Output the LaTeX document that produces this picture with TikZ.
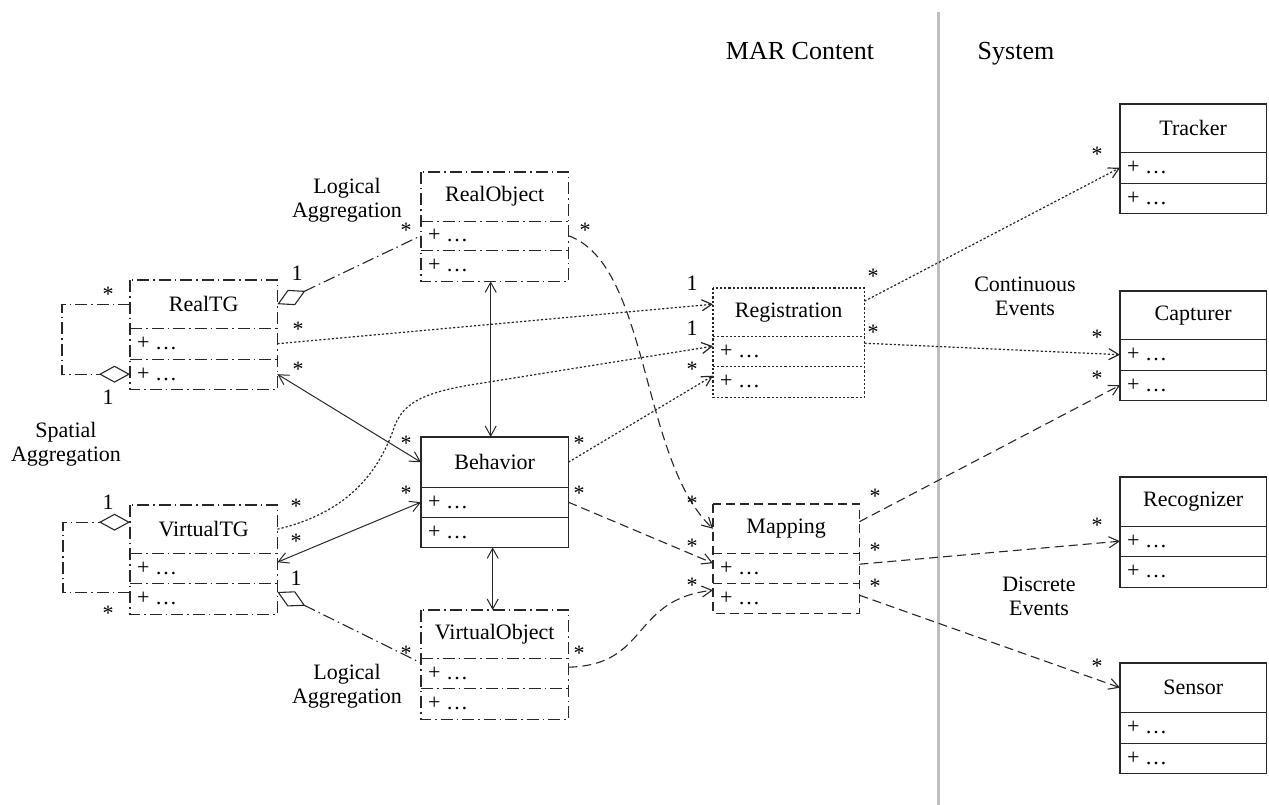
\documentclass[tikz,border=0pt]{standalone}
\usepackage{fontspec}
\setmainfont{Liberation Serif}
\usetikzlibrary{arrows.meta,calc}
\definecolor{divgray}{RGB}{190,190,190}
\definecolor{lncol}{RGB}{40,40,40}
\tikzset{
  every node/.style={font=\fontsize{22}{24}\selectfont, text=black},
  dd/.style={line width=1.1pt, dash pattern=on 12pt off 4pt on 1.5pt off 4pt},
  dsh/.style={line width=1.1pt, dash pattern=on 9pt off 5pt},
  dtt/.style={line width=1.2pt, dash pattern=on 2.2pt off 2pt},
  sld/.style={line width=1.4pt},
  conn/.style={line width=1pt, draw=lncol},
  dstart/.style={{Diamond[open,length=31pt,width=17pt]}-},
  dend/.style={-{Diamond[open,length=31pt,width=17pt]}},
  mult/.style={inner sep=0pt},
  star/.style={inner sep=0pt, yshift=-3pt},
  lbl/.style={align=center, inner sep=0pt},
  comp/.style={inner sep=0pt, draw=none},
}
\newcommand\umlclass[9]{%
  \node[comp, anchor=north west, minimum width={(#4-#3)*1pt}, minimum height={(#6-#5)*1pt}] (#1) at (#3,#5) {#9};
  \node[comp, anchor=north west, minimum width={(#4-#3)*1pt}, minimum height={(#7-#6)*1pt}] (#1-a) at (#3,#6) {};
  \node[comp, anchor=north west, minimum width={(#4-#3)*1pt}, minimum height={(#8-#7)*1pt}] (#1-o) at (#3,#7) {};
  \node[anchor=west, inner sep=0pt] (#1-at) at ($(#1-a.west)+(7,0)$) {+ …};
  \node[anchor=west, inner sep=0pt] (#1-ot) at ($(#1-o.west)+(7,0)$) {+ …};
  \draw[#2] (#1.north west) rectangle (#1-o.south east);
  \draw[#2] (#1.south west) -- (#1.south east);
  \draw[#2] (#1-a.south west) -- (#1-a.south east);
}
\begin{document}
\begin{tikzpicture}[x=1pt, y=-1pt, >={Straight Barb[length=10pt,width=11pt]}]
\fill[white] (0,0) rectangle (1269,805);
\useasboundingbox (0,0) rectangle (1269,805);

% divider and titles
\draw[line width=3pt, divgray] (938,12) -- (938,805);
\node[font=\fontsize{26}{28}\selectfont, inner sep=0pt, anchor=base] (tmar) at (800,60) {MAR Content};
\node[font=\fontsize{26}{28}\selectfont, inner sep=0pt, anchor=base] (tsys) at (1016,60) {System};

% classes
\umlclass{rtg}{dd,line width=1.1pt,draw=lncol}{130}{277}{280}{328}{359}{389}{RealTG}
\umlclass{vtg}{dd,line width=1.1pt,draw=lncol}{130}{277}{505}{553}{583}{614}{VirtualTG}
\umlclass{ro}{dd,line width=1.1pt,draw=lncol}{421}{568}{172}{221}{250}{281}{RealObject}
\umlclass{beh}{sld,draw=lncol}{421}{568}{437}{487}{517}{547}{Behavior}
\umlclass{vo}{dd,line width=1.1pt,draw=lncol}{421}{568}{610}{658}{688}{719}{VirtualObject}
\umlclass{reg}{dtt,draw=lncol}{713}{864}{288}{336}{366}{397}{Registration}
\umlclass{map}{dsh,draw=lncol}{713}{859}{504}{553}{583}{613}{Mapping}
\umlclass{tra}{sld,draw=lncol}{1120}{1266}{104}{152}{183}{213}{Tracker}
\umlclass{cap}{sld,draw=lncol}{1120}{1266}{291}{339}{370}{400}{Capturer}
\umlclass{rec}{sld,draw=lncol}{1120}{1266}{477}{526}{556}{587}{Recognizer}
\umlclass{sen}{sld,draw=lncol}{1120}{1266}{663}{712}{743}{773}{Sensor}

% aggregations
\draw[conn,dd,dstart] (rtg.east) -- (ro-a.west);
\draw[conn,dd,dstart] ($(vtg-o.north east)+(0,9)$) -- ($(vo-a.north west)+(0,5)$);
\draw[conn,dd,dend] (rtg.west) -- ++(-68,0) |- (rtg-o.west);
\draw[conn,dd,dend] ($(vtg-o.west)+(0,-6)$) -- ++(-67,0) |- ($(vtg.west)+(0,-7)$);

% solid associations
\draw[conn,<->] (rtg-o.east) -- (beh.west);
\draw[conn,<->] ($(vtg-a.east)+(0,-6)$) -- (beh-a.west);
\draw[conn,<->] ($(ro-o.south)+(-4,0)$) -- ($(beh.north)+(-4,0)$);
\draw[conn,<->] ($(beh-o.south)+(-2,0)$) -- ($(vo.north)+(-2,0)$);

% dotted to registration
\draw[conn,dtt,->] (rtg-a.east) -- ($(reg.west)+(0,-8)$);
\draw[conn,dtt,->] (vtg.east) .. controls (350,512) and (380,470) .. (395,425)
   .. controls (405,400) and (430,392) .. (470,385) -- ($(reg-a.west)+(0,-5)$);
\draw[conn,dtt,->] (beh.east) -- ($(reg-o.west)+(0,-6)$);

% dashed to mapping
\draw[conn,dsh,->] (ro-a.east) .. controls (650,265) and (640,460) .. (map.west);
\draw[conn,dsh,->] (beh-a.east) -- ($(map-a.west)+(0,-5)$);
\draw[conn,dsh,->] ($(vo-a.east)+(0,-6)$) .. controls (650,665) and (630,600) .. ($(map-o.west)+(0,-8)$);

% to system
\draw[conn,dtt,->] ($(reg.east)+(0,-11)$) -- (tra-a.west);
\draw[conn,dtt,->] ($(reg-a.east)+(0,-8)$) -- (cap-a.west);
\draw[conn,dsh,->] ($(map.east)+(0,-7)$) -- (cap-o.west);
\draw[conn,dsh,->] ($(map-a.east)+(0,-4)$) -- (rec-a.west);
\draw[conn,dsh,->] ($(map-o.east)+(0,-3)$) -- (sen.west);

% labels
\node[lbl] (l1) at (347,200) {Logical\\Aggregation};
\node[lbl] (l2) at (347,686) {Logical\\Aggregation};
\node[lbl] (l3) at (66,444) {Spatial\\Aggregation};
\node[lbl] (l4) at (1025,296) {Continuous\\Events};
\node[lbl] (l5) at (1039,596) {Discrete\\Events};

% multiplicities
\node[star] (m1) at (108,291) {*};
\node[mult] (m2) at (108,397) {1};
\node[mult] (m3) at (108,502) {1};
\node[star] (m4) at (108,610) {*};
\node[mult] (m5) at (297,273) {1};
\node[star] (m6) at (406,227) {*};
\node[star] (m7) at (585,227) {*};
\node[star] (m8) at (298,326) {*};
\node[star] (m9) at (298,366) {*};
\node[star] (m10) at (406,440) {*};
\node[star] (m11) at (406,490) {*};
\node[star] (m12) at (296,503) {*};
\node[star] (m13) at (296,538) {*};
\node[mult] (m14) at (296,578) {1};
\node[star] (m15) at (406,650) {*};
\node[star] (m16) at (579,650) {*};
\node[star] (m17) at (579,440) {*};
\node[star] (m18) at (579,490) {*};
\node[mult] (m19) at (692,283) {1};
\node[mult] (m20) at (692,328) {1};
\node[star] (m21) at (692,366) {*};
\node[star] (m22) at (873,273) {*};
\node[star] (m23) at (873,329) {*};
\node[star] (m24) at (692,500) {*};
\node[star] (m25) at (692,543) {*};
\node[star] (m26) at (692,582) {*};
\node[star] (m27) at (875,493) {*};
\node[star] (m28) at (875,547) {*};
\node[star] (m29) at (875,583) {*};
\node[star] (m30) at (1097,151) {*};
\node[star] (m31) at (1097,334) {*};
\node[star] (m32) at (1097,375) {*};
\node[star] (m33) at (1097,522) {*};
\node[star] (m34) at (1097,663) {*};
\end{tikzpicture}
\end{document}
